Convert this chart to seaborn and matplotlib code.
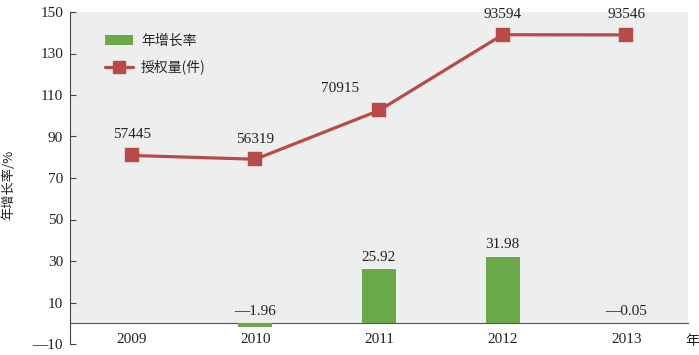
"""年增长率 / 授权量 组合图 (bar + line, twin axis)."""
import matplotlib
matplotlib.use("Agg")
import matplotlib.pyplot as plt
from matplotlib.lines import Line2D
from matplotlib.patches import Patch
from matplotlib.ticker import FixedLocator, FuncFormatter
import numpy as np
import pandas as pd
import seaborn as sns

YEARS = ["2009", "2010", "2011", "2012", "2013"]
GROWTH = [np.nan, -1.96, 25.92, 31.98, -0.05]       # 年增长率 %
GRANTS = [57445, 56319, 70915, 93594, 93546]         # 授权量(件)
Y_TICKS = [-10, 10, 30, 50, 70, 90, 110, 130, 150]

GREEN = "#6aa84a"
RED = "#b84a47"
BG = "#edeeee"
FS = 11

sns.set_style("white")
plt.rcParams["font.family"] = ["Liberation Serif", "Noto Sans CJK SC", "DejaVu Sans"]
plt.rcParams["axes.unicode_minus"] = False

df = pd.DataFrame({"year": YEARS, "growth": GROWTH, "grants": GRANTS})


def dash_num(v, fmt="{:g}"):
    s = fmt.format(abs(v))
    return ("—" + s) if v < 0 else s


fig = plt.figure(figsize=(6.99, 3.55), dpi=100)
ax = fig.add_axes([70 / 699, 1 - 344 / 355, 618 / 699, 332 / 355])
ax.set_facecolor("white")

sns.barplot(data=df, x="year", y="growth", color=GREEN, width=0.275,
            saturation=1, linewidth=0, edgecolor="none", ax=ax, zorder=3)
ax.set_xlim(-0.5, 4.5)
ax.set_ylim(-10, 150)
ax.axhspan(0, 150, color=BG, zorder=0, lw=0)

# bar labels
for i, v in enumerate(GROWTH):
    if np.isnan(v):
        continue
    ax.annotate(dash_num(v, "{:.2f}"), (i, max(v, 0)), xytext=(0, 12),
                textcoords="offset pixels", ha="center", va="center",
                fontsize=FS, color="#222")

# axes cosmetics
for s in ("top", "right"):
    ax.spines[s].set_visible(False)
ax.spines["left"].set_color("#444")
ax.spines["bottom"].set_color("#555")
ax.spines["bottom"].set_position(("data", 0))
ax.yaxis.set_major_locator(FixedLocator(Y_TICKS))
ax.yaxis.set_major_formatter(FuncFormatter(lambda v, _: dash_num(v, "{:.0f}")))
ax.tick_params(axis="y", direction="in", length=4, width=0.8, color="#444",
               pad=5, labelsize=FS, labelcolor="#222")
ax.set_xticks(range(len(YEARS)))
ax.set_xticklabels(YEARS)
ax.xaxis.set_minor_locator(FixedLocator([0.5, 1.5, 2.5, 3.5, 4.5]))
ax.tick_params(axis="x", which="major", length=0, pad=7, labelsize=FS, labelcolor="#222")
ax.tick_params(axis="x", which="minor", direction="in", length=4, width=0.8, color="#555")
ax.set_xlabel("")
ax.set_ylabel("年增长率/%", fontsize=9.5, color="#222", family=["Noto Sans CJK SC"])
ax.yaxis.set_label_coords(-0.089, 0.48)

# line on hidden twin axis
ax2 = ax.twinx()
sns.pointplot(data=df, x="year", y="grants", color=RED, marker="s",
              markersize=8, linewidth=2.3, ax=ax2, zorder=4)
ax2.set_xlim(-0.5, 4.5)
ax2.set_ylim(1000, 100400)
ax2.axis("off")
offsets = [(0, 21), (0, 20), (-39, 22), (0, 20), (0, 20)]
for i, (v, off) in enumerate(zip(GRANTS, offsets)):
    ax2.annotate(f"{v}", (i, v), xytext=off, textcoords="offset pixels",
                 ha="center", va="center", fontsize=FS, color="#222")

handles = [Patch(facecolor=GREEN, edgecolor="none"),
           Line2D([], [], color=RED, lw=2.3, marker="s", ms=8)]
ax.legend(handles, ["年增长率", "授权量(件)"], loc="upper left",
          bbox_to_anchor=(0.045, 0.955), frameon=False,
          handlelength=2.0, handleheight=0.7, handletextpad=0.6,
          labelspacing=0.85, borderpad=0,
          prop={"family": ["Noto Sans CJK SC"], "size": 10})

fig.text(692 / 699, 1 - 341 / 355, "年", ha="center", va="center",
         fontsize=10, color="#222", family=["Noto Sans CJK SC"])

fig.savefig("out.png", dpi=100, facecolor="white")
